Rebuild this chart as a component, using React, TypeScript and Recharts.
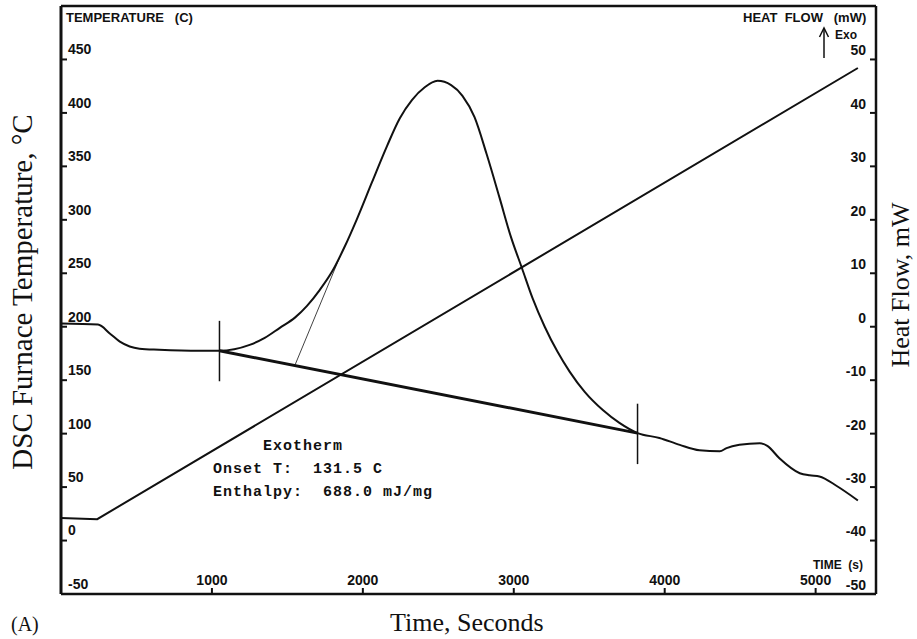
import React from 'react';
import { ComposedChart, Line, XAxis, YAxis } from 'recharts';

// axis ticks
const TIME_TICKS = [1000, 2000, 3000, 4000, 5000];
const TEMP_TICKS = [-50, 0, 50, 100, 150, 200, 250, 300, 350, 400, 450];
const FLOW_TICKS = [-50, -40, -30, -20, -10, 0, 10, 20, 30, 40, 50];

// furnace temperature program (left axis)
const furnaceTime = [0, 240, 5280];
const furnaceTemp = [21, 20, 442];

// DSC heat flow signal (right axis)
const flowTime = [
  0, 245, 325, 390, 455, 520, 650, 920, 1050, 1250, 1350, 1450, 1550, 1630, 1715,
  1800, 1880, 1960, 2060, 2160, 2245, 2325, 2410, 2495, 2585, 2660, 2740, 2820,
  2905, 2980, 3055, 3125, 3205, 3290, 3370, 3470, 3590, 3700, 3820, 3965, 4100,
  4230, 4365, 4410, 4495, 4630, 4680, 4760, 4895, 4960, 5025, 5140, 5280,
];
const flowValue = [
  0.6, 0.4, -1.3, -2.8, -3.7, -4.1, -4.3, -4.5, -4.5, -3.4, -2.1, -0.2, 1.7, 3.9, 6.9,
  10.5, 15.0, 20.1, 27.0, 33.8, 39.0, 42.4, 44.8, 46.0, 45.2, 43.2, 39.2, 32.3,
  24.2, 16.9, 10.9, 5.3, 0.0, -4.7, -8.4, -12.2, -15.6, -18.0, -19.9, -20.8, -22.1,
  -23.1, -23.3, -22.7, -22.1, -21.8, -22.3, -24.6, -27.4, -27.8, -28.0, -29.8, -32.5,
];

// integration baseline and onset tangent
const baselineTime = [1050, 3820];
const baselineFlow = [-4.5, -19.9];
const tangentTime = [1550, 1848];
const tangentFlow = [-7.2, 13.1];

// integration limit markers
const limitTime = [1050, 3820];
const limitLow = [-10.2, -25.7];
const limitHigh = [1.1, -14.4];

const zip = (ts: number[], vs: number[]) => ts.map((t, i) => ({ t, v: vs[i] }));

const furnaceData = zip(furnaceTime, furnaceTemp);
const flowData = zip(flowTime, flowValue);
const baselineData = zip(baselineTime, baselineFlow);
const tangentData = zip(tangentTime, tangentFlow);
const limitData = limitTime.map((t, i) => [
  { t, v: limitLow[i] },
  { t, v: limitHigh[i] },
]);

const INK = '#111';
const PLOT_FONT = '"Liberation Sans", Arial, sans-serif';
const MONO_FONT = '"Liberation Mono", "DejaVu Sans Mono", monospace';
const SERIF_FONT = '"Liberation Serif", "Times New Roman", serif';

const TempTick = (props: any) => {
  const { x, y, payload } = props;
  return (
    <text x={x} y={y - 10} dy="0.35em" textAnchor="start" fontSize={14}
      fontWeight="bold" fill={INK} fontFamily={PLOT_FONT}>
      {payload.value}
    </text>
  );
};

const FlowTick = (props: any) => {
  const { x, y, payload } = props;
  return (
    <text x={x} y={y - 9} dy="0.35em" textAnchor="end" fontSize={14}
      fontWeight="bold" fill={INK} fontFamily={PLOT_FONT}>
      {payload.value}
    </text>
  );
};

const TimeTick = (props: any) => {
  const { x, y, payload } = props;
  return (
    <text x={x} y={y - 6} dy="0.35em" textAnchor="middle" fontSize={14}
      fontWeight="bold" fill={INK} fontFamily={PLOT_FONT}>
      {payload.value}
    </text>
  );
};

const abs = (left: number, top: number, extra: React.CSSProperties = {}): React.CSSProperties => ({
  position: 'absolute',
  left,
  top,
  lineHeight: 1,
  whiteSpace: 'pre',
  color: INK,
  ...extra,
});

const frame = { stroke: INK, strokeWidth: 2.5 };
const tickMark = { stroke: INK, strokeWidth: 2 };

export default function App() {
  return (
    <div style={{ position: 'absolute', left: 0, top: 0, width: 917, height: 639, background: '#fff', overflow: 'hidden' }}>
      <ComposedChart width={917} height={639} margin={{ top: 6, right: 41, bottom: 45, left: 61 }}>
        <XAxis xAxisId="time" dataKey="t" type="number" domain={[0, 5400]} ticks={TIME_TICKS}
          allowDataOverflow orientation="bottom" mirror tickSize={6} tickMargin={2}
          axisLine={frame} tickLine={tickMark} tick={<TimeTick />} />
        <XAxis xAxisId="top" dataKey="t" type="number" domain={[0, 5400]} ticks={TIME_TICKS}
          allowDataOverflow orientation="top" mirror tickSize={6} tick={false}
          axisLine={frame} tickLine={tickMark} />
        <YAxis yAxisId="temp" type="number" domain={[-50, 500]} ticks={TEMP_TICKS}
          allowDataOverflow orientation="left" mirror tickSize={6} tickMargin={1}
          axisLine={{ stroke: INK, strokeWidth: 3 }} tickLine={tickMark} tick={<TempTick />} />
        <YAxis yAxisId="flow" type="number" domain={[-50, 60]} ticks={FLOW_TICKS}
          allowDataOverflow orientation="right" mirror tickSize={6} tickMargin={4}
          axisLine={frame} tickLine={tickMark} tick={<FlowTick />} />

        <Line xAxisId="time" yAxisId="temp" data={furnaceData} dataKey="v" type="linear"
          stroke={INK} strokeWidth={2} dot={false} activeDot={false} isAnimationActive={false} />
        <Line xAxisId="time" yAxisId="flow" data={flowData} dataKey="v" type="monotone"
          stroke={INK} strokeWidth={2} dot={false} activeDot={false} isAnimationActive={false} />
        <Line xAxisId="time" yAxisId="flow" data={baselineData} dataKey="v" type="linear"
          stroke={INK} strokeWidth={3} dot={false} activeDot={false} isAnimationActive={false} />
        <Line xAxisId="time" yAxisId="flow" data={tangentData} dataKey="v" type="linear"
          stroke={INK} strokeWidth={0.8} dot={false} activeDot={false} isAnimationActive={false} />
        {limitData.map((seg, i) => (
          <Line key={`limit-${i}`} xAxisId="time" yAxisId="flow" data={seg} dataKey="v" type="linear"
            stroke={INK} strokeWidth={1.5} dot={false} activeDot={false} isAnimationActive={false} />
        ))}
      </ComposedChart>

      {/* plotter captions inside the frame */}
      <div style={abs(66, 11, { fontFamily: PLOT_FONT, fontWeight: 'bold', fontSize: 13 })}>TEMPERATURE   (C)</div>
      <div style={abs(743, 11, { fontFamily: PLOT_FONT, fontWeight: 'bold', fontSize: 13, width: 123, textAlign: 'right' })}>HEAT  FLOW   (mW)</div>
      <svg style={{ position: 'absolute', left: 818, top: 26 }} width={12} height={34}>
        <line x1={6} y1={3} x2={6} y2={32} stroke={INK} strokeWidth={1.5} />
        <path d="M1.5 11 L6 2 L10.5 11" fill="none" stroke={INK} strokeWidth={1.5} />
      </svg>
      <div style={abs(835, 29, { fontFamily: PLOT_FONT, fontWeight: 'bold', fontSize: 12 })}>Exo</div>
      <div style={abs(740, 559, { fontFamily: PLOT_FONT, fontWeight: 'bold', fontSize: 12, width: 123, textAlign: 'right' })}>TIME  (s)</div>

      {/* peak analysis */}
      <div style={abs(263, 439, { fontFamily: MONO_FONT, fontWeight: 'bold', fontSize: 15, letterSpacing: 1 })}>Exotherm</div>
      <div style={abs(213, 462, { fontFamily: MONO_FONT, fontWeight: 'bold', fontSize: 15, letterSpacing: 1 })}>Onset T:  131.5 C</div>
      <div style={abs(213, 485, { fontFamily: MONO_FONT, fontWeight: 'bold', fontSize: 15, letterSpacing: 1 })}>Enthalpy:  688.0 mJ/mg</div>

      {/* figure titles */}
      <div style={abs(390, 610, { fontFamily: SERIF_FONT, fontSize: 26 })}>Time, Seconds</div>
      <div style={abs(11, 614, { fontFamily: SERIF_FONT, fontSize: 20 })}>(A)</div>
      <div style={abs(22, 292, { fontFamily: SERIF_FONT, fontSize: 29, transform: 'translate(-50%, -50%) rotate(-90deg)' })}>DSC Furnace Temperature, °C</div>
      <div style={abs(901, 285, { fontFamily: SERIF_FONT, fontSize: 26, transform: 'translate(-50%, -50%) rotate(-90deg)' })}>Heat Flow, mW</div>
    </div>
  );
}
